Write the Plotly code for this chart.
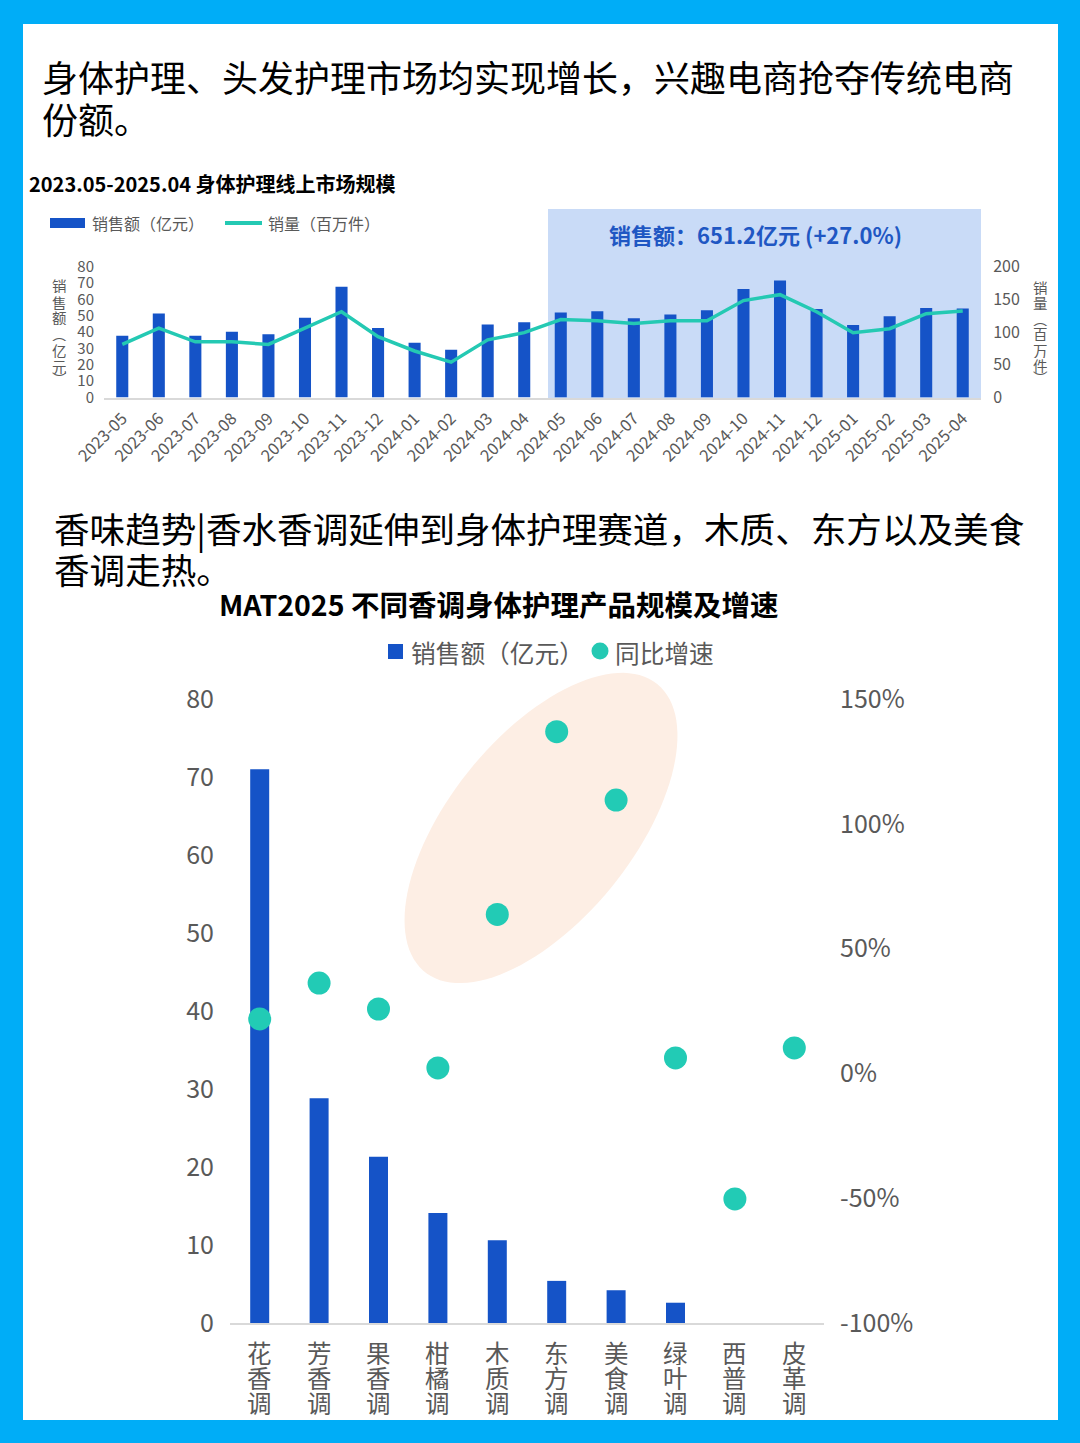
import numpy as np
import plotly.graph_objects as go

# ---------------- data ----------------
months = ['2023-05', '2023-06', '2023-07', '2023-08', '2023-09', '2023-10', '2023-11', '2023-12',
          '2024-01', '2024-02', '2024-03', '2024-04', '2024-05', '2024-06', '2024-07', '2024-08',
          '2024-09', '2024-10', '2024-11', '2024-12', '2025-01', '2025-02', '2025-03', '2025-04']
sales_bn = [37.7, 51.3, 37.7, 40.1, 38.7, 48.7, 67.6, 42.4, 33.4, 29.1, 44.6, 46.0,
            51.9, 52.7, 48.4, 50.7, 53.3, 66.3, 71.4, 54.1, 44.2, 49.6, 54.7, 54.3]
volume_mn = [81, 106, 85, 85, 81, 106, 131, 93, 71, 54, 88, 99,
             119, 117, 113, 117, 117, 148, 157, 131, 99, 105, 128, 132]

notes = ['花香调', '芳香调', '果香调', '柑橘调', '木质调', '东方调', '美食调', '绿叶调', '西普调', '皮革调']
note_sales = [71.0, 28.8, 21.3, 14.1, 10.6, 5.4, 4.2, 2.6, 0, 0]
note_growth = [21.8, 36.2, 25.8, 2.2, 63.7, 136.9, 109.5, 6.2, -50.3, 10.2]

left_ticks_top = [0, 10, 20, 30, 40, 50, 60, 70, 80]
right_ticks_top = [0, 50, 100, 150, 200]
left_ticks_bot = [0, 10, 20, 30, 40, 50, 60, 70, 80]
right_ticks_bot = [-100, -50, 0, 50, 100, 150]

# ---------------- styling ----------------
W, H = 1080, 1443
FONT = "Noto Sans CJK SC"
BLUE = '#1553C7'
TEAL = '#24C9B3'
GRAY = '#595959'
FRAME = '#00ADF7'


def P(x):
    return x / W


def Q(y):
    return 1 - y / H


fig = go.Figure()

# top chart
fig.add_trace(go.Bar(x=months, y=sales_bn, marker=dict(color=BLUE, line=dict(width=0)),
                     width=0.33, xaxis='x', yaxis='y', showlegend=False))
fig.add_trace(go.Scatter(x=months, y=volume_mn, mode='lines', line=dict(color=TEAL, width=3.5),
                         xaxis='x', yaxis='y2', showlegend=False))

# bottom chart
fig.add_trace(go.Bar(x=notes, y=note_sales, marker=dict(color=BLUE, line=dict(width=0)),
                     width=0.32, xaxis='x2', yaxis='y3', showlegend=False))
fig.add_trace(go.Scatter(x=notes, y=note_growth, mode='markers',
                         marker=dict(color='#22CBB5', size=23, line=dict(width=0)),
                         xaxis='x2', yaxis='y4', showlegend=False))

shapes = []
# white panel
shapes.append(dict(type='rect', xref='paper', yref='paper', x0=P(23), x1=P(1058), y0=Q(1420), y1=Q(24),
                   fillcolor='white', line=dict(width=0), layer='below'))
# highlight area top chart
shapes.append(dict(type='rect', xref='paper', yref='paper', x0=P(548), x1=P(981), y0=Q(400), y1=Q(209),
                   fillcolor='#C9DBF7', line=dict(width=0), layer='below'))
# ellipse
cx, cy, a, b, th = 541, 828, 185, 92, np.deg2rad(51.1)
t = np.linspace(0, 2 * np.pi, 120)
ex = cx + a * np.cos(t) * np.cos(th) - b * np.sin(t) * np.sin(th)
ey = cy - (a * np.cos(t) * np.sin(th) + b * np.sin(t) * np.cos(th))
path = 'M ' + ' L '.join(f'{P(xx):.5f},{Q(yy):.5f}' for xx, yy in zip(ex, ey)) + ' Z'
shapes.append(dict(type='path', xref='paper', yref='paper', path=path,
                   fillcolor='#FDEEE4', line=dict(width=0), layer='below'))
# top legend symbols
shapes.append(dict(type='rect', xref='paper', yref='paper', x0=P(50), x1=P(85), y0=Q(228), y1=Q(218),
                   fillcolor=BLUE, line=dict(width=0)))
shapes.append(dict(type='line', xref='paper', yref='paper', x0=P(225), x1=P(262), y0=Q(223), y1=Q(223),
                   line=dict(color=TEAL, width=4)))
# bottom legend symbols
shapes.append(dict(type='rect', xref='paper', yref='paper', x0=P(388), x1=P(403), y0=Q(659), y1=Q(644),
                   fillcolor=BLUE, line=dict(width=0)))
shapes.append(dict(type='circle', xref='paper', yref='paper', x0=P(591.5), x1=P(608.5), y0=Q(659.5), y1=Q(642.5),
                   fillcolor=TEAL, line=dict(width=0)))

ann = []


def text(s, x, y, size, color='black', bold=False, xanchor='left'):
    ann.append(dict(text=f'<b>{s}</b>' if bold else s, x=P(x), y=Q(y), xref='paper', yref='paper',
                    xanchor=xanchor, yanchor='middle', showarrow=False,
                    font=dict(family=FONT, size=size, color=color)))


def vtext(s, x, ys, size, color=GRAY, h=None):
    for ch, yy in zip(s, ys):
        ann.append(dict(text=ch, x=P(x), y=Q(yy), xref='paper', yref='paper', xanchor='center',
                        yanchor='middle', showarrow=False, height=h, borderpad=0,
                        font=dict(family=FONT, size=size, color=color)))


text('身体护理、头发护理市场均实现增长，兴趣电商抢夺传统电商', 40, 76, 36)
text('份额。', 40, 118, 36)
text('2023.05-2025.04 身体护理线上市场规模', 27, 184, 20, bold=True)
text('销售额（亿元）', 90, 223, 16, GRAY)
text('销量（百万件）', 266, 223, 16, GRAY)
text('销售额：651.2亿元 (+27.0%)', 755, 234, 22, '#1F57C3', bold=True, xanchor='center')
vtext('销售额︵亿元︶', 59, [286, 302, 317, 333, 350, 366, 378], 14.5, h=15)
vtext('销量︵百万件︶', 1040, [287, 302, 318, 333, 350, 365, 377], 14.5, h=15)

text('香味趋势|香水香调延伸到身体护理赛道，木质、东方以及美食', 52, 527, 35.6)
text('香调走热。', 52, 568, 35.6)
text('MAT2025 不同香调身体护理产品规模及增速', 498, 603, 28.5, bold=True, xanchor='center')
text('销售额（亿元）', 409, 652, 24.7, GRAY)
text('同比增速', 613, 652, 24.7, GRAY)

# vertical category labels of bottom chart
for nm in notes:
    for ch, yy in zip(nm, [1352, 1377, 1402]):
        ann.append(dict(text=ch, x=nm, xref='x2', y=Q(yy), yref='paper', xanchor='center', yanchor='middle',
                        showarrow=False, height=25, borderpad=0,
                        font=dict(family=FONT, size=24.5, color=GRAY)))

top_dom = [Q(397.5), Q(266.5)]
bot_dom = [Q(1323), Q(699)]

fig.update_layout(
    template='none',
    width=W, height=H, margin=dict(l=0, r=0, t=0, b=0, pad=0), autosize=False,
    paper_bgcolor=FRAME, plot_bgcolor='rgba(0,0,0,0)',
    font=dict(family=FONT, color=GRAY),
    bargap=0.67,
    shapes=shapes, annotations=ann,
    xaxis=dict(domain=[P(104), P(981)], type='category', categoryorder='array', categoryarray=months,
               range=[-0.5, len(months) - 0.5],
               showline=True, linecolor='#D9D9D9', linewidth=2, showgrid=False, zeroline=False,
               tickangle=-45, tickfont=dict(size=16.5, color=GRAY), ticks='outside', ticklen=3,
               tickcolor='rgba(0,0,0,0)', anchor='y', automargin=False),
    yaxis=dict(domain=top_dom, range=[0, 80], tickvals=left_ticks_top, showgrid=False, zeroline=False,
               showline=False, tickfont=dict(size=15, color=GRAY), ticks='outside', ticklen=6,
               tickcolor='rgba(0,0,0,0)', anchor='x', automargin=False),
    yaxis2=dict(domain=top_dom, range=[0, 200], tickvals=right_ticks_top, overlaying='y', side='right',
                showgrid=False, zeroline=False, showline=False, tickfont=dict(size=16, color=GRAY),
                ticks='outside', ticklen=8, tickcolor='rgba(0,0,0,0)', anchor='x', automargin=False),
    xaxis2=dict(domain=[P(230), P(824)], type='category', categoryorder='array', categoryarray=notes,
                range=[-0.5, len(notes) - 0.5],
                showline=True, linecolor='#D9D9D9', linewidth=2, showgrid=False, zeroline=False,
                showticklabels=False, anchor='y3', automargin=False),
    yaxis3=dict(domain=bot_dom, range=[0, 80], tickvals=left_ticks_bot, showgrid=False, zeroline=False,
                showline=False, tickfont=dict(size=25, color=GRAY), ticks='outside', ticklen=10,
                tickcolor='rgba(0,0,0,0)', anchor='x2', automargin=False),
    yaxis4=dict(domain=bot_dom, range=[-100, 150], tickvals=right_ticks_bot,
                ticktext=[f'{v}%' for v in right_ticks_bot], overlaying='y3', side='right',
                showgrid=False, zeroline=False, showline=False, tickfont=dict(size=25, color=GRAY),
                ticks='outside', ticklen=10, tickcolor='rgba(0,0,0,0)', anchor='x2', automargin=False),
)

fig.write_html('out.html')
